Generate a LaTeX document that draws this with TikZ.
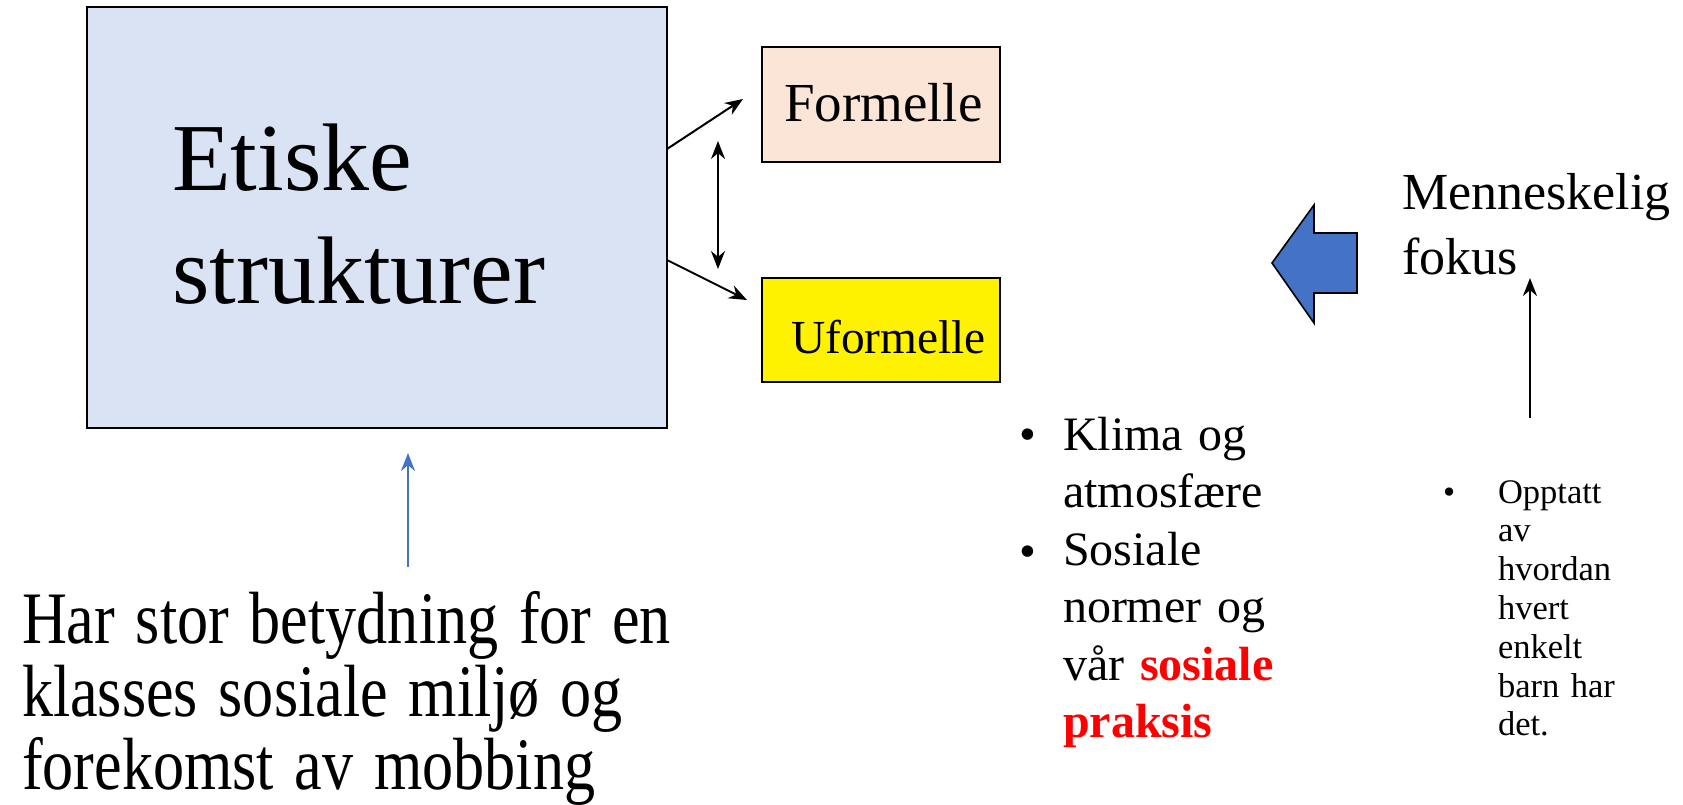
\documentclass[tikz,border=0pt]{standalone}
\usepackage{fontspec}
\setmainfont{Liberation Serif}
\usetikzlibrary{arrows.meta}
\definecolor{boxblue}{HTML}{DAE3F3}
\definecolor{boxpeach}{HTML}{FBE5D6}
\definecolor{accblue}{HTML}{4472C4}
\definecolor{accred}{HTML}{FF0000}
\begin{document}
\begin{tikzpicture}[x=0.5pt,y=-0.5pt,
  framebox/.style={draw=black,line width=0.7pt,inner sep=0pt,outer sep=0pt},
  txt/.style={anchor=base west,inner sep=0pt,outer sep=0pt,align=left,text width=#1},
  txt/.default=400pt,
  conn/.style={draw=black,line width=1pt,-{Stealth[length=9pt,width=7pt]}},
  dconn/.style={draw=black,line width=1pt,{Stealth[length=9pt,width=7pt]}-{Stealth[length=9pt,width=7pt]}}]
\useasboundingbox (0,0) rectangle (1683,804);
% boxes
\node[framebox,fill=boxblue,minimum width=290pt,minimum height=210.5pt] (etisk) at (377,217.5) {};
\node[framebox,fill=boxpeach,minimum width=119pt,minimum height=57.5pt] (formell) at (881,104.5) {};
\node[framebox,fill=yellow,minimum width=119pt,minimum height=52pt] (uformell) at (881,330) {};
% texts
\node[txt,font=\fontsize{48}{56.5}\selectfont] (etisktxt) at (172,190) {Etiske\\strukturer};
\node[txt,font=\fontsize{27.5}{32}\selectfont] (formtxt) at (784,121) {Formelle};
\node[txt,font=\fontsize{23.7}{28}\selectfont] (uformtxt) at (791,353) {Uformelle};
\node[txt,font=\fontsize{26}{32.5}\selectfont] (menn) at (1402,209) {Menneskelig\\fokus};
% middle list
\node[txt,font=\fontsize{24}{28.75}\selectfont] (b1) at (1019,450) {•};
\node[txt,font=\fontsize{24}{28.75}\selectfont] (b2) at (1019,567) {•};
\node[txt,font=\fontsize{24}{28.75}\selectfont] (klima) at (1063,450) {Klima og\\atmosfære\\Sosiale\\normer og\\vår \textcolor{accred}{\textbf{sosiale}}\\\textcolor{accred}{\textbf{praksis}}};
% small list
\node[txt,font=\fontsize{17.25}{19.4}\selectfont] (b3) at (1443,503) {•};
\node[txt,font=\fontsize{17.25}{19.4}\selectfont] (opptatt) at (1498,503) {Opptatt\\av\\hvordan\\hvert\\enkelt\\barn har\\det.};
% bottom text
\node[txt=460pt,font=\fontsize{37}{36.5}\selectfont,transform shape,xscale=0.84] (har) at (22,643) {Har stor betydning for en\\klasses sosiale miljø og\\forekomst av mobbing};
% connectors
\coordinate (c1s) at (667,149);
\coordinate (c1e) at (743,99);
\coordinate (c2s) at (667,260);
\coordinate (c2e) at (747,300);
\coordinate (d1) at (718,141);
\coordinate (d2) at (718,269);
\draw[conn] (c1s) -- (c1e);
\draw[conn] (c2s) -- (c2e);
\draw[dconn] (d1) -- (d2);
\coordinate (bs) at (408,567);
\coordinate (be) at (408,453);
\draw[draw=accblue,line width=1pt,-{Stealth[length=9pt,width=7pt]}] (bs) -- (be);
\coordinate (rs) at (1530,418);
\coordinate (re) at (1530,278);
\draw[conn] (rs) -- (re);
% block arrow
\draw[fill=accblue,draw=black,line width=0.8pt,line join=miter]
  (1272,263) -- (1314,205) -- (1314,233) -- (1357,233) -- (1357,293) -- (1314,293) -- (1314,323) -- cycle;
\end{tikzpicture}
\end{document}
